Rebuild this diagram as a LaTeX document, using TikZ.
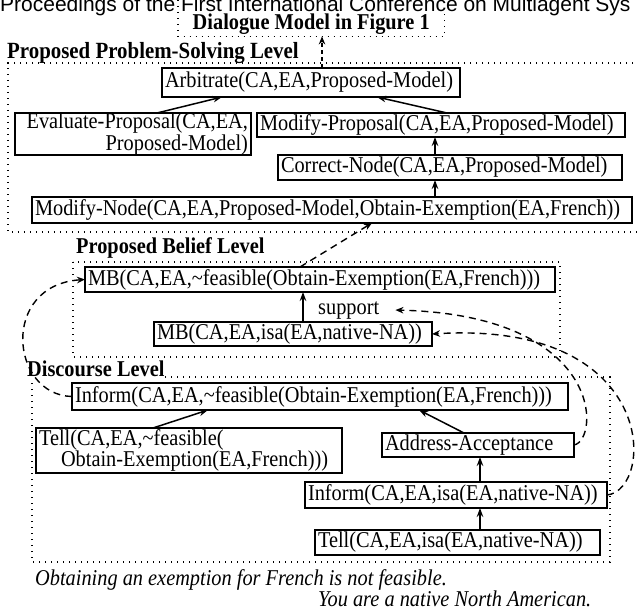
\documentclass[tikz,border=0pt]{standalone}
\usepackage{fontspec}
\setmainfont{Liberation Serif}[FakeStretch=0.9]
\newfontfamily\hdrfont{Liberation Sans}
\usetikzlibrary{arrows.meta}
\begin{document}
\begin{tikzpicture}[x=1pt,y=-1pt,
  box/.style={draw, line width=1.5pt, inner xsep=3pt, inner ysep=0pt, outer sep=0pt,
    anchor=north west, align=left, font=\fontsize{22.6}{17}\selectfont},
  lvl/.style={dash pattern=on 1.4pt off 4.6pt, line width=1.4pt},
  solidarr/.style={line width=1.5pt, -{Stealth[length=9pt,width=6.5pt]}},
  dasharr/.style={line width=1.4pt, dash pattern=on 7pt off 5pt, -{Stealth[length=8pt,width=6.5pt]}},
  lab/.style={font=\fontsize{22.6}{20}\selectfont\bfseries, anchor=base west, inner sep=0pt},
  plain/.style={font=\fontsize{22.6}{20}\selectfont, anchor=base west, inner sep=0pt},
  capt/.style={font=\fontsize{22.6}{20}\selectfont\itshape, anchor=base west, inner sep=0pt},
]
\useasboundingbox (0,0) rectangle (637,610);
\fill[white] (0,0) rectangle (637,610);

% header
\node[font=\hdrfont\fontsize{21}{21}\selectfont, anchor=base west, inner sep=0pt] (hdr) at (0,12)
  {Proceedings of the First International Conference on Multiagent Sys};

% dialogue model box
\node[anchor=north west, minimum width=266pt, minimum height=24pt, inner sep=0pt,
  font=\fontsize{22.6}{20}\selectfont\bfseries] (dlg) at (178,12) {Dialogue Model in Figure 1};
\draw[lvl] ([yshift=12pt]dlg.north west) -- (dlg.south west) -- (dlg.south east) -- ([yshift=12pt]dlg.north east);

% level frames
\draw[lvl] (645,63) -- (8,63) -- (8,232) -- (645,232);
\draw[lvl] (73,262) rectangle (560,357);
\draw[lvl] (165,377) -- (610,377) -- (610,562) -- (32,562) -- (32,381);

\node[lab, font=\fontsize{23.2}{20}\selectfont\bfseries] (lpps) at (7,59) {Proposed Problem-Solving Level};
\node[lab] (lpb) at (76,253) {Proposed Belief Level};
\node[lab] (ldl) at (27,376) {Discourse Level};

% problem-solving level
\node[box, text width=292pt, minimum height=29pt] (arb) at (162,68) {Arbitrate(CA,EA,Proposed-Model)};
\node[box, text width=230pt, minimum height=40pt, align=right] (eval) at (15,113) {Evaluate-Proposal(CA,EA,\\Proposed-Model)};
\node[box, text width=362pt, minimum height=24pt] (mp) at (257,113) {Modify-Proposal(CA,EA,Proposed-Model)};
\node[box, text width=338pt, minimum height=25pt] (corr) at (278,155) {Correct-Node(CA,EA,Proposed-Model)};
\node[box, text width=594pt, minimum height=26pt] (mn) at (32,197) {Modify-Node(CA,EA,Proposed-Model,Obtain-Exemption(EA,French))};

% belief level
\node[box, text width=464pt, minimum height=25pt] (mb1) at (85,267) {MB(CA,EA,\textasciitilde feasible(Obtain-Exemption(EA,French)))};
\node[box, text width=272pt, minimum height=24pt] (mb2) at (154,322) {MB(CA,EA,isa(EA,native-NA))};
\node[plain] (sup) at (318,314) {support};

% discourse level
\node[box, text width=490pt, minimum height=27pt] (inf1) at (72,383) {Inform(CA,EA,\textasciitilde feasible(Obtain-Exemption(EA,French)))};
\node[box, text width=300pt, minimum height=45pt] (tell1) at (36,428) {Tell(CA,EA,\textasciitilde feasible(\\\hspace*{22pt}Obtain-Exemption(EA,French)))};
\node[box, text width=186pt, minimum height=24pt] (aa) at (382,433) {Address-Acceptance};
\node[box, text width=296pt, minimum height=26pt] (infisa) at (305,482) {Inform(CA,EA,isa(EA,native-NA))};
\node[box, text width=279pt, minimum height=25pt] (tellisa) at (315,530) {Tell(CA,EA,isa(EA,native-NA))};

% captions
\node[capt] (c1) at (35,585) {Obtaining an exemption for French is not feasible.};
\node[capt] (c2) at (318,606) {You are a native North American.};

% solid arrows
\draw[solidarr] ([xshift=24pt]eval.north) -- ([xshift=-89pt]arb.south);
\draw[solidarr] ([xshift=6pt]mp.north) -- ([xshift=66pt]arb.south);
\draw[solidarr] ([xshift=-15pt]corr.north) -- ([xshift=-6pt]mp.south);
\draw[solidarr] ([xshift=103pt]mn.north) -- ([xshift=-15pt]corr.south);
\draw[solidarr] ([xshift=10pt]mb2.north) -- ([xshift=-17pt]mb1.south);
\draw[solidarr] ([xshift=-36pt]tell1.north) -- ([xshift=-112pt]inf1.south);
\draw[solidarr] ([xshift=-14pt]aa.north) -- ([xshift=99pt]inf1.south);
\draw[solidarr] ([xshift=24pt]infisa.north) -- ([xshift=2pt]aa.south);
\draw[solidarr] ([xshift=22.5pt]tellisa.north) -- ([xshift=24pt]infisa.south);

% dashed arrows
\draw[dasharr, dash pattern=on 4pt off 3pt] ([xshift=11pt]arb.north) -- ([xshift=11pt]arb.north |- dlg.south);
\draw[dasharr] ([xshift=-20pt]mb1.north) -- ([xshift=40pt]mn.south);
\draw[dasharr] (inf1.west) .. controls (10,395) and (0,285) .. (mb1.west);
\draw[dasharr] (aa.east) .. controls (600,440) and (605,315) .. ([xshift=16pt]sup.east);
\draw[dasharr] (infisa.east) .. controls (655,490) and (660,320) .. (mb2.east);
\end{tikzpicture}
\end{document}
